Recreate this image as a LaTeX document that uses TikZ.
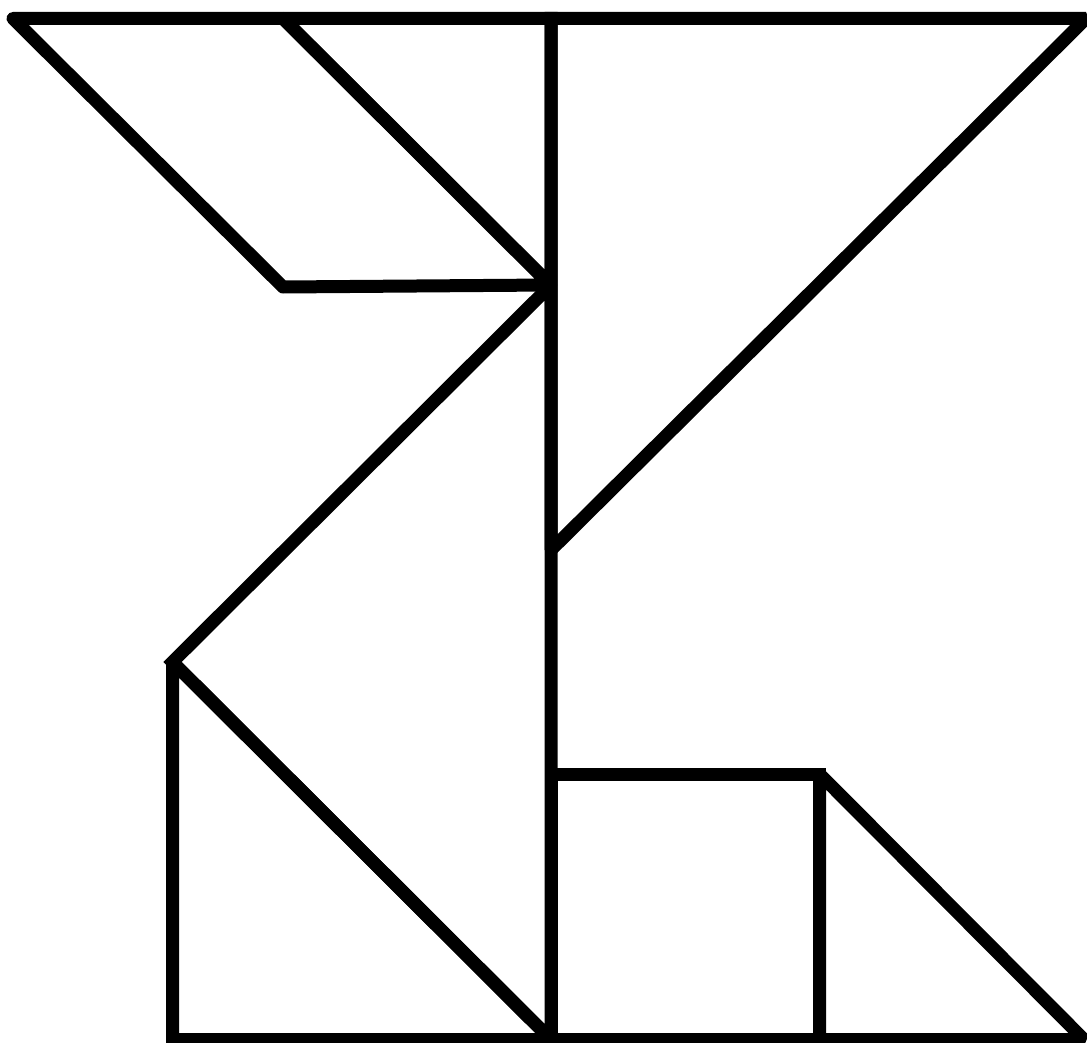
\documentclass[tikz,border=0pt]{standalone}
\begin{document}
\begin{tikzpicture}[x=1pt,y=-1pt,
  piece/.style={draw=black,line width=13pt,line join=miter,miter limit=2}]
\useasboundingbox (0,0) rectangle (1087,1043);
\clip (0,0) rectangle (1087,1043);
\fill[white] (0,0) rectangle (1087,1043);
% parallelogram
\draw[piece,line join=round] (13,18.5) -- (283,18.5) -- (550,285) -- (283,287) -- cycle;
% small triangle top
\draw[piece] (283,18.5) -- (551,18.5) -- (551,285) -- cycle;
% big triangle top right
\draw[piece] (551,18.5) -- (1086,18.5) -- (551,550) -- cycle;
% big triangle middle
\draw[piece] (551,285) -- (551,1039.5) -- (172.5,662) -- cycle;
% medium triangle
\draw[piece] (172.5,662) -- (172.5,1039.5) -- (551,1039.5) -- cycle;
% square
\draw[piece] (551,774) -- (685,774) -- (819.5,774) -- (819.5,1039.5) -- (551,1039.5) -- cycle;
% small triangle bottom right
\draw[piece] (819.5,774) -- (1084,1039.5) -- (819.5,1039.5) -- cycle;
\end{tikzpicture}
\end{document}
